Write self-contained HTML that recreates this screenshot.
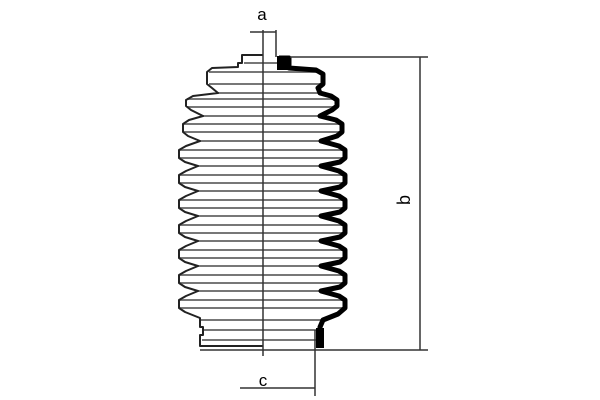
<!DOCTYPE html>
<html><head><style>body{margin:0;background:#fff}svg{display:block}</style></head><body>
<svg width="600" height="400" viewBox="0 0 600 400" xmlns="http://www.w3.org/2000/svg">
<g stroke="#777" stroke-width="2">
<line x1="244" y1="63" x2="290" y2="63"/>
<line x1="209" y1="72" x2="322" y2="72"/>
<line x1="209" y1="84" x2="322" y2="84"/>
<line x1="218" y1="93" x2="320" y2="93"/>
<line x1="187" y1="99" x2="336" y2="99"/>
<line x1="187" y1="107" x2="336" y2="107"/>
<line x1="203" y1="116" x2="320" y2="116"/>
<line x1="183" y1="124" x2="342" y2="124"/>
<line x1="183" y1="132" x2="342" y2="132"/>
<line x1="200" y1="141" x2="321" y2="141"/>
<line x1="180" y1="150" x2="345" y2="150"/>
<line x1="180" y1="158" x2="345" y2="158"/>
<line x1="198" y1="166" x2="321" y2="166"/>
<line x1="180" y1="175" x2="345" y2="175"/>
<line x1="180" y1="183" x2="345" y2="183"/>
<line x1="198" y1="191" x2="321" y2="191"/>
<line x1="180" y1="200" x2="345" y2="200"/>
<line x1="180" y1="208" x2="345" y2="208"/>
<line x1="198" y1="216" x2="321" y2="216"/>
<line x1="180" y1="225" x2="345" y2="225"/>
<line x1="180" y1="233" x2="345" y2="233"/>
<line x1="198" y1="241" x2="321" y2="241"/>
<line x1="180" y1="250" x2="345" y2="250"/>
<line x1="180" y1="258" x2="345" y2="258"/>
<line x1="198" y1="266" x2="321" y2="266"/>
<line x1="180" y1="275" x2="345" y2="275"/>
<line x1="180" y1="283" x2="345" y2="283"/>
<line x1="198" y1="291" x2="321" y2="291"/>
<line x1="180" y1="300" x2="345" y2="300"/>
<line x1="180" y1="308" x2="345" y2="308"/>
<line x1="200" y1="320" x2="325" y2="320"/>
<line x1="203" y1="330" x2="318" y2="330"/>
<line x1="202" y1="340" x2="318" y2="340"/>
</g>
<polyline fill="none" stroke="#222" stroke-width="2" stroke-linejoin="round" points="263,55 242,55 242,63 238,63 238,67 212,68 207,72 207,84 212,88 218,93 193,96 186,100 186,106 191,110 203,116 189,120 183,124 183,132 188,136 200,141 186,146 179,150 179,158 185,162 198,166 186,171 179,175 179,183 185,187 198,191 186,196 179,200 179,208 185,212 198,216 186,221 179,225 179,233 185,237 198,241 186,246 179,250 179,258 185,262 198,266 186,271 179,275 179,283 185,287 198,291 186,296 179,300 179,308 185,312 200,318 200,327 203,327 203,335 200,335 200,346 263,346"/>
<polyline fill="none" stroke="#000" stroke-width="5" stroke-linejoin="round" points="279,58 289,58 289,68 316,70 323,74 323,84 318,88 320,93 331,96 337,100 337,106 332,110 320,116 336,120 342,124 342,132 337,136 321,141 339,146 345,150 345,158 340,162 321,166 339,171 345,175 345,183 340,187 321,191 339,196 345,200 345,208 340,212 321,216 339,221 345,225 345,233 340,237 321,241 339,246 345,250 345,258 340,262 321,266 339,271 345,275 345,283 340,287 321,291 339,296 345,300 345,308 338,314 323,320 320,327 320,348"/>
<rect x="277" y="56" width="13" height="14" fill="#000"/>
<rect x="316" y="328" width="8" height="20" fill="#000"/>
<g stroke="#333" stroke-width="1.5">
<line x1="263" y1="30" x2="263" y2="356"/>
<line x1="276" y1="30" x2="276" y2="57"/>
<line x1="250" y1="32" x2="276" y2="32"/>
<line x1="290" y1="57" x2="428" y2="57"/>
<line x1="200" y1="350" x2="428" y2="350"/>
<line x1="420" y1="57" x2="420" y2="350"/>
<line x1="315" y1="330" x2="315" y2="396"/>
<line x1="240" y1="388" x2="315" y2="388"/>
</g>
<text x="262" y="20" font-family="Liberation Sans, sans-serif" font-size="17" text-anchor="middle">a</text>
<text x="263" y="386" font-family="Liberation Sans, sans-serif" font-size="17" text-anchor="middle">c</text>
<text x="0" y="0" font-family="Liberation Sans, sans-serif" font-size="18" text-anchor="middle" transform="translate(410,200) rotate(-90)">b</text>
</svg>
</body></html>
